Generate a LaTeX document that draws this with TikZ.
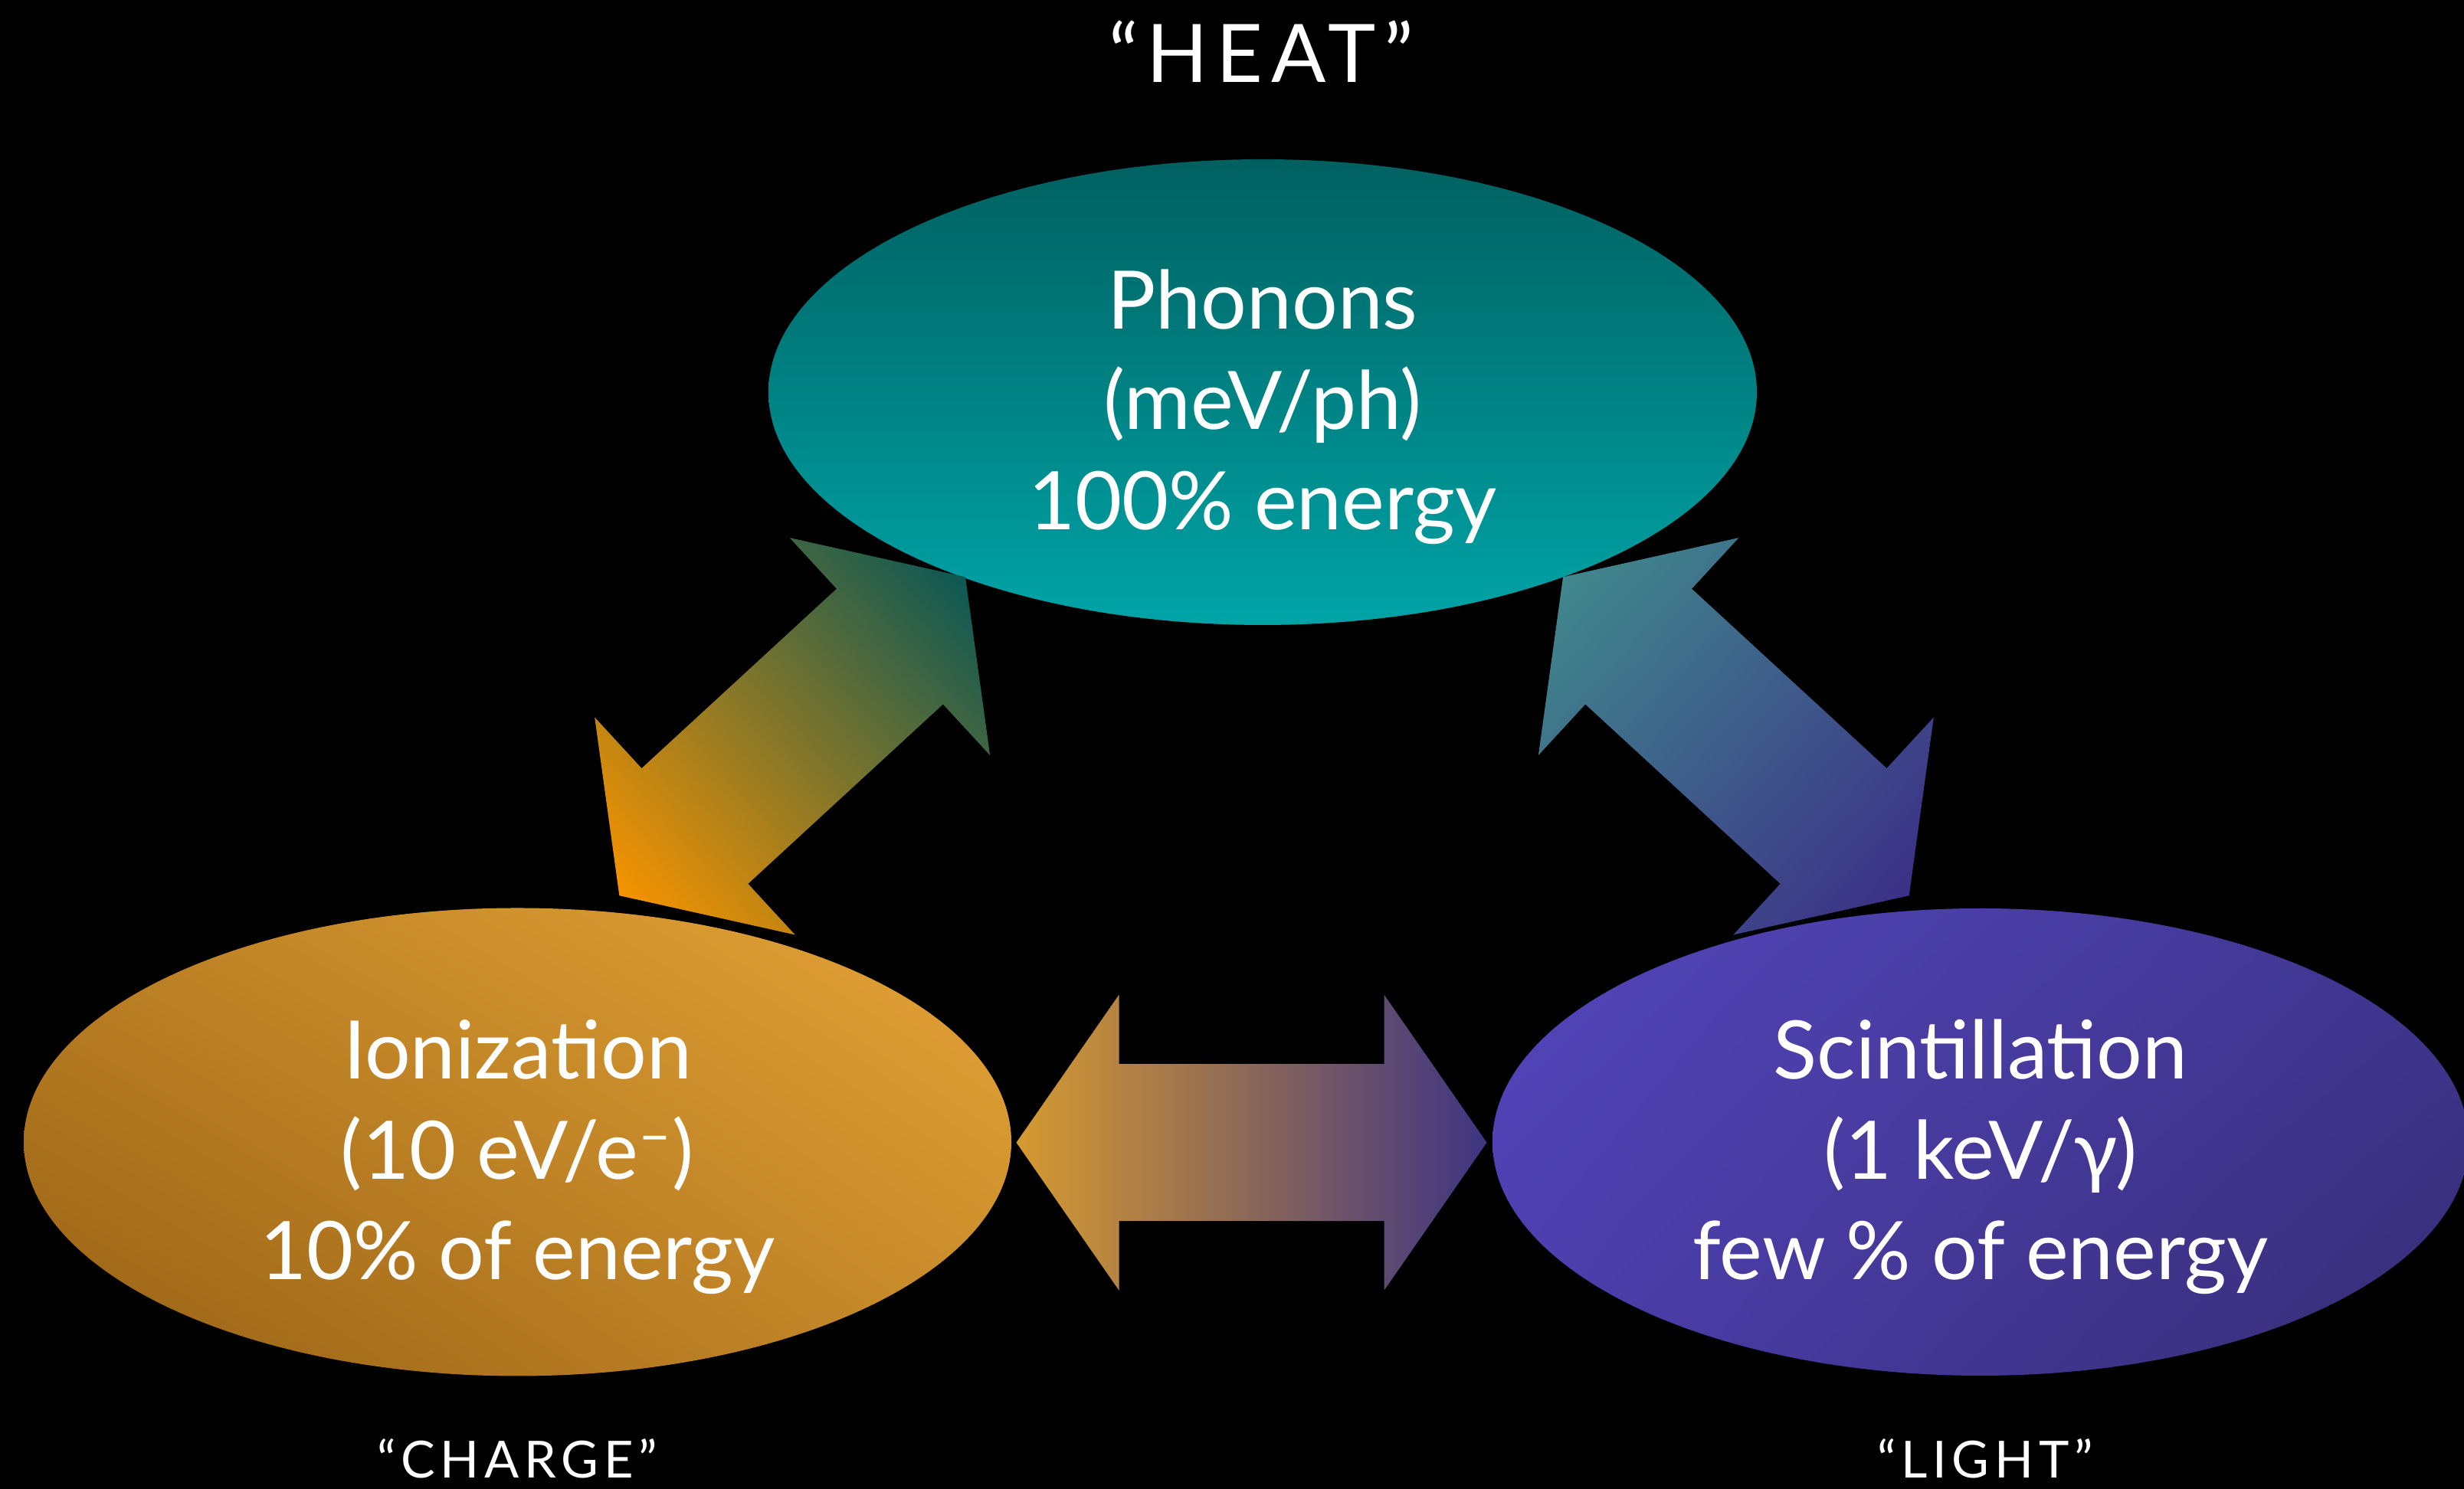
\documentclass[tikz,border=0pt]{standalone}
\usepackage{fontspec}
\setmainfont{Lato}
\newfontfamily\tagfont[LetterSpace=10]{Lato}
\usetikzlibrary{shapes.geometric,shadings,calc}

\definecolor{phtop}{RGB}{0,96,96}
\definecolor{phbot}{RGB}{0,164,167}
\definecolor{ionll}{RGB}{150,96,20}
\definecolor{ionul}{RGB}{188,128,36}
\definecolor{ionlr}{RGB}{200,138,42}
\definecolor{ionur}{RGB}{230,165,55}
\definecolor{scul}{RGB}{84,70,188}
\definecolor{scll}{RGB}{76,62,172}
\definecolor{scur}{RGB}{64,54,145}
\definecolor{sclr}{RGB}{54,44,115}
\definecolor{arrorange}{RGB}{246,147,0}
\definecolor{arrdarkteal}{RGB}{12,88,84}
\definecolor{arrgreyteal}{RGB}{64,136,140}
\definecolor{arrpurple}{RGB}{60,48,135}
\definecolor{arrgold}{RGB}{214,154,48}
\definecolor{arrviolet}{RGB}{62,52,130}

\tikzset{
  blob/.style={ellipse,inner sep=0pt,minimum width=12.9cm,minimum height=6.08cm,
    text=white,align=center,font=\fontsize{30}{37.3}\selectfont},
  tag/.style={text=white,inner sep=0pt}
}

% strut that pushes the lines a little below the centre of the ellipse
\newcommand\topgap{\rule{0pt}{33pt}}

% double block arrow with its two tips on #1 and #2
\newcommand\blockarrow[4]{%
  \pgfmathanglebetweenpoints{\pgfpointanchor{#1}{center}}{\pgfpointanchor{#2}{center}}%
  \edef\arrowangle{\pgfmathresult}%
  \begin{scope}[transform canvas={shift={($(#1)!0.5!(#2)$)},rotate=\arrowangle}]
    \shade[left color=#3,right color=#4] (-3.07,0) -- (-1.73,1.93) -- (-1.73,1.025)
      -- (1.73,1.025) -- (1.73,1.93) -- (3.07,0) -- (1.73,-1.93) -- (1.73,-1.025)
      -- (-1.73,-1.025) -- (-1.73,-1.93) -- cycle;
  \end{scope}}

\begin{document}
\begin{tikzpicture}
  \useasboundingbox[fill=black] (0,0) rectangle (32.16,19.44);

  \node[blob,top color=phtop,bottom color=phbot] (phonons) at (16.48,14.32)
    {\topgap Phonons\\(meV/ph)\\100\% energy};
  \node[blob,minimum width=12.89cm,minimum height=6.11cm,
    lower left=ionll,upper left=ionul,lower right=ionlr,upper right=ionur] (ion) at (6.755,4.53)
    {\topgap Ionization\\(10 eV/e\textsuperscript{–})\\10\% of energy};
  \node[blob,minimum width=12.74cm,minimum height=6.1cm,
    lower left=scll,upper left=scul,lower right=sclr,upper right=scur] (scint) at (25.85,4.53)
    {\topgap Scintillation\\(1 keV/γ)\\few \% of energy};

  \coordinate (ionN) at (8.083,7.747);
  \coordinate (phSW) at (12.60,11.907);
  \coordinate (phSE) at (20.40,11.907);
  \coordinate (scN) at (24.917,7.747);
  \coordinate (ionE) at (13.27,4.523);
  \coordinate (scW) at (19.40,4.523);

  \blockarrow{ionN}{phSW}{arrorange}{arrdarkteal}
  \blockarrow{phSE}{scN}{arrgreyteal}{arrpurple}
  \blockarrow{ionE}{scW}{arrgold}{arrviolet}

  \node[tag,font=\tagfont\fontsize{30}{36}\selectfont] (heat) at (16.46,18.77) {“HEAT”};
  \node[tag,font=\tagfont\fontsize{19}{23}\selectfont] (charge) at (6.75,0.40) {“CHARGE”};
  \node[tag,font=\tagfont\fontsize{19}{23}\selectfont] (light) at (25.91,0.40) {“LIGHT”};
\end{tikzpicture}
\end{document}
